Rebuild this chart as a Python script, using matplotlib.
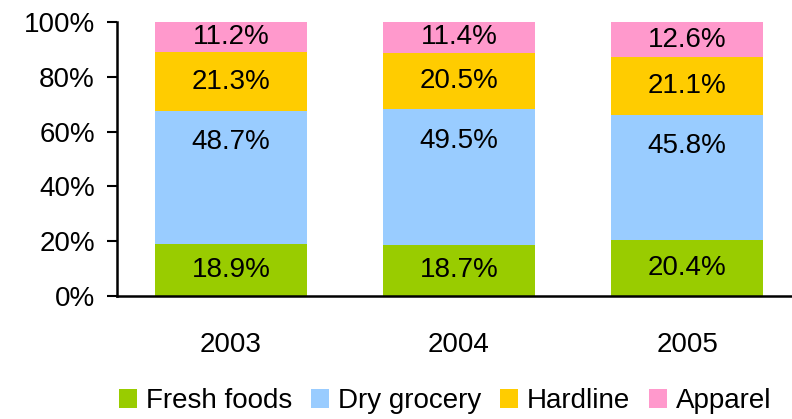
import matplotlib.pyplot as plt
import numpy as np

plt.rcParams['font.family'] = ['Liberation Sans', 'DejaVu Sans']

# data
years = ['2003', '2004', '2005']
series = ['Fresh foods', 'Dry grocery', 'Hardline', 'Apparel']
fresh = [18.9, 18.7, 20.4]
dry = [48.7, 49.5, 45.8]
hardline = [21.3, 20.5, 21.1]
apparel = [11.2, 11.4, 12.6]
colors = ['#99CC00', '#99CCFF', '#FFCC00', '#FF99CC']

fig = plt.figure(figsize=(7.92, 4.19), dpi=100)
ax = fig.add_axes([117 / 792, 1 - 296 / 419, 1 - 117 / 792, 274 / 419])

x = np.arange(len(years))
bottom = np.zeros(len(years))
for name, vals, col in zip(series, [fresh, dry, hardline, apparel], colors):
    vals = np.array(vals)
    ax.bar(x, vals, 0.667, bottom=bottom, color=col, label=name)
    for xi, b, v in zip(x, bottom, vals):
        # the dry grocery labels sit near the top of their segment
        if name == 'Dry grocery':
            y = b + v - 11.5
        else:
            y = b + v / 2
        ax.text(xi, y, f'{v:.1f}%', ha='center', va='center', fontsize=20)
    bottom += vals

ax.set_xlim(-0.5, 2.46)
ax.set_ylim(0, 100)
ax.set_yticks(range(0, 101, 20))
ax.set_yticklabels([f'{v}%' for v in range(0, 101, 20)])
ax.set_xticks(x)
ax.set_xticklabels(years)
ax.tick_params(axis='y', labelsize=20, length=7, width=1.5, pad=9)
ax.tick_params(axis='x', labelsize=20, length=0, pad=26)
for s in ['top', 'right']:
    ax.spines[s].set_visible(False)
ax.spines['left'].set_linewidth(1.8)
ax.spines['bottom'].set_linewidth(1.8)

fig.legend(loc='center', bbox_to_anchor=(445 / 792, 1 - 401 / 419), ncol=4,
           frameon=False, fontsize=20, handlelength=0.65, handleheight=0.7,
           handletextpad=0.32, columnspacing=0.68, borderpad=0, borderaxespad=0)

fig.savefig('out.png', dpi=100)
